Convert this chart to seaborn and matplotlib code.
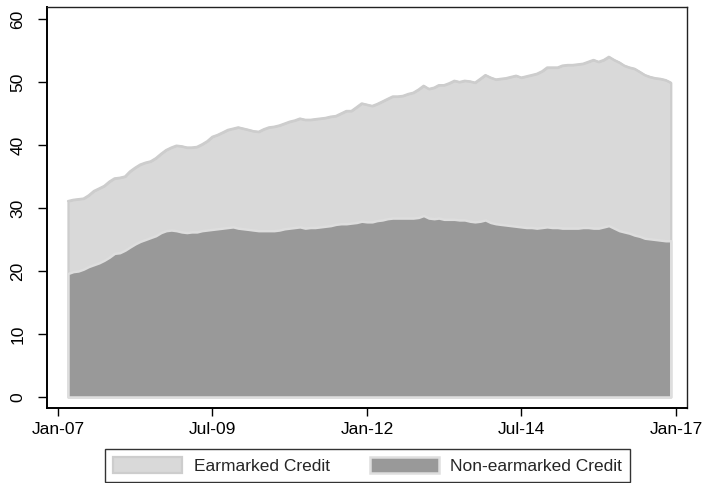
import matplotlib
matplotlib.use("Agg")
import matplotlib.pyplot as plt
import matplotlib.dates as mdates
import numpy as np
import pandas as pd
import seaborn as sns

# Monthly credit stock, % of GDP, Mar-2007 .. Dec-2016
first_month = "2007-03-01"
last_month = "2016-12-01"

non_earmarked = [
    19.6, 19.9, 20.0, 20.3, 20.7, 21.0, 21.3, 21.7, 22.2, 22.8,              # 2007
    22.9, 23.3, 23.8, 24.3, 24.7, 25.0, 25.3, 25.6, 26.1, 26.4, 26.5, 26.4,  # 2008
    26.2, 26.1, 26.2, 26.2, 26.4, 26.5, 26.6, 26.7, 26.8, 26.9, 27.0, 26.8,  # 2009
    26.7, 26.6, 26.5, 26.4, 26.4, 26.4, 26.4, 26.5, 26.7, 26.8, 26.9, 27.0,  # 2010
    26.8, 26.9, 26.9, 27.0, 27.1, 27.2, 27.4, 27.5, 27.5, 27.6, 27.7, 27.9,  # 2011
    27.8, 27.8, 28.0, 28.1, 28.3, 28.4, 28.4, 28.4, 28.4, 28.4, 28.5, 28.8,  # 2012
    28.4, 28.3, 28.4, 28.2, 28.2, 28.2, 28.1, 28.1, 27.9, 27.8, 27.9, 28.1,  # 2013
    27.7, 27.5, 27.4, 27.3, 27.2, 27.1, 27.0, 26.9, 26.9, 26.8, 26.9, 27.0,  # 2014
    26.9, 26.9, 26.8, 26.8, 26.8, 26.8, 26.9, 26.9, 26.8, 26.8, 27.0, 27.2,  # 2015
    26.8, 26.4, 26.2, 26.0, 25.7, 25.5, 25.2, 25.1, 25.0, 24.9, 24.8, 24.8,  # 2016
]

earmarked = [
    11.5, 11.4, 11.4, 11.2, 11.3, 11.7, 11.8, 11.8, 12.0, 11.9,              # 2007
    11.9, 11.7, 12.0, 12.1, 12.2, 12.2, 12.1, 12.3, 12.5, 12.8, 13.1, 13.5,  # 2008
    13.6, 13.5, 13.4, 13.5, 13.7, 14.1, 14.7, 14.9, 15.2, 15.5, 15.6, 16.0,  # 2009
    15.9, 15.8, 15.7, 15.7, 16.1, 16.4, 16.5, 16.6, 16.7, 16.9, 17.0, 17.2,  # 2010
    17.2, 17.1, 17.2, 17.2, 17.2, 17.3, 17.2, 17.5, 17.9, 17.8, 18.3, 18.7,  # 2011
    18.6, 18.4, 18.5, 18.8, 19.0, 19.3, 19.3, 19.4, 19.7, 19.9, 20.3, 20.6,  # 2012
    20.5, 20.8, 21.1, 21.3, 21.6, 22.0, 21.9, 22.1, 22.2, 22.1, 22.6, 23.0,  # 2013
    23.0, 22.9, 23.1, 23.3, 23.6, 23.9, 23.7, 24.0, 24.2, 24.5, 24.8, 25.3,  # 2014
    25.4, 25.4, 25.8, 25.9, 25.9, 26.0, 26.0, 26.3, 26.7, 26.4, 26.5, 26.8,  # 2015
    26.7, 26.7, 26.4, 26.3, 26.4, 26.1, 25.9, 25.7, 25.6, 25.6, 25.5, 25.1,  # 2016
]

tick_dates = ["2007-01-01", "2009-07-01", "2012-01-01", "2014-07-01", "2017-01-01"]
tick_labels = ["Jan-07", "Jul-09", "Jan-12", "Jul-14", "Jan-17"]
y_ticks = [0, 10, 20, 30, 40, 50, 60]
series_labels = ["Earmarked Credit", "Non-earmarked Credit"]

sns.set_style("white")
plt.rcParams["font.family"] = ["Liberation Sans", "DejaVu Sans"]

df = pd.DataFrame({
    "date": pd.date_range(first_month, last_month, freq="MS"),
    "non_earmarked": non_earmarked,
    "earmarked": earmarked,
})
df["total"] = df["non_earmarked"] + df["earmarked"]

fig = plt.figure(figsize=(7.04, 4.83), dpi=100)
ax = fig.add_axes([47 / 704, 1 - 408 / 483, 640 / 704, 401 / 483])

light_fill, light_edge = "#d9d9d9", "#cdcdcd"
dark_fill, dark_edge = "#999999", "#dedede"

# stacked areas: earmarked sits on top of non-earmarked
ax.fill_between(df["date"], 0, df["total"], facecolor=light_fill,
                edgecolor=light_edge, linewidth=1.6, label=series_labels[0],
                zorder=2)
ax.fill_between(df["date"], 0, df["non_earmarked"], facecolor=dark_fill,
                edgecolor=dark_edge, linewidth=1.8, label=series_labels[1],
                zorder=3)

# outline of the total on top, drawn with seaborn
sns.lineplot(data=df, x="date", y="total", ax=ax, color=light_edge,
             linewidth=1.6, zorder=4, legend=False)

x0 = mdates.date2num(pd.Timestamp("2007-01-01"))
x1 = mdates.date2num(pd.Timestamp("2017-01-01"))
pad = (x1 - x0) * 11 / 618
ax.set_xlim(x0 - pad, x1 + pad)
ax.set_ylim(-1.75, 61.9)

ax.set_xticks([mdates.date2num(pd.Timestamp(d)) for d in tick_dates])
ax.set_xticklabels(tick_labels)
ax.set_yticks(y_ticks)
ax.set_yticklabels([str(v) for v in y_ticks], rotation=90, va="center")
ax.set_xlabel("")
ax.set_ylabel("")

ax.tick_params(axis="x", which="both", length=5.5, width=1.0, color="black",
               labelsize=12.5, pad=4.5, bottom=True, labelcolor="black")
ax.tick_params(axis="y", which="both", length=6.5, width=1.0, color="black",
               labelsize=12.5, pad=9, left=True, labelcolor="black")

for side in ["left", "bottom"]:
    ax.spines[side].set_color("black")
    ax.spines[side].set_linewidth(1.4)
for side in ["top", "right"]:
    ax.spines[side].set_visible(True)
    ax.spines[side].set_color("#222222")
    ax.spines[side].set_linewidth(1.0)

handles, labels = ax.get_legend_handles_labels()
leg = fig.legend(handles[:2], labels[:2], loc="center",
                 bbox_to_anchor=(367.5 / 704, 1 - 465.5 / 483),
                 ncol=2, fontsize=12.5, frameon=True, fancybox=False,
                 handlelength=4.0, handleheight=1.0, handletextpad=0.65,
                 columnspacing=2.3, borderpad=0.45, borderaxespad=0.0)
leg.get_frame().set_edgecolor("black")
leg.get_frame().set_linewidth(1.0)

fig.savefig("out.png", dpi=100)
